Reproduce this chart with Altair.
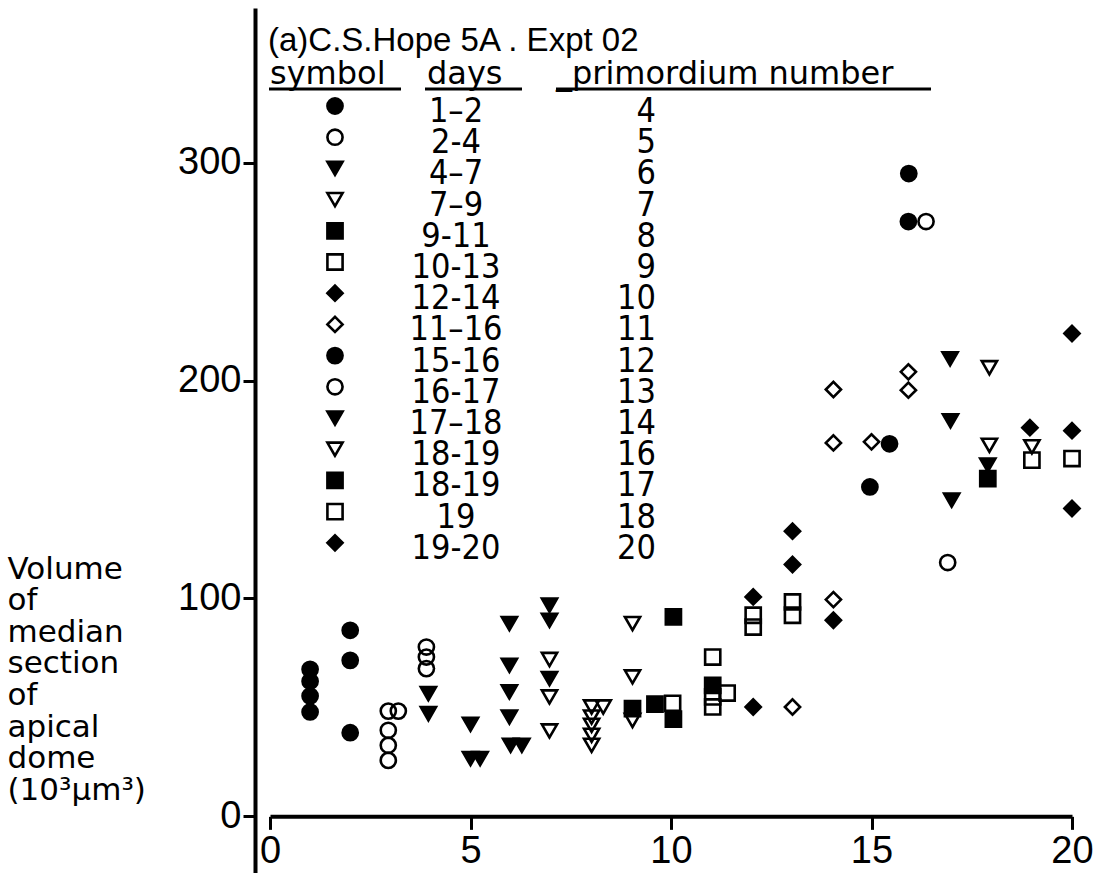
import altair as alt
import pandas as pd

# ---------------- data ----------------
filled_circle_day = [1, 1, 1, 1, 2, 2, 2, 14.96, 15.45, 15.92, 15.93]
filled_circle_vol = [67.5, 62.0, 55.2, 47.9, 85.4, 71.6, 38.4, 151.2, 171.0, 273.0, 295.0]

open_circle_day = [2.95, 3.2, 2.95, 2.95, 2.95, 3.9, 3.9, 3.9, 16.36, 16.9]
open_circle_vol = [48.3, 48.3, 39.5, 32.6, 25.7, 77.7, 73.1, 67.8, 273.0, 116.5]

filled_tri_day = [3.95, 3.95, 5.0, 5.0, 5.24, 5.97, 5.97, 5.97, 5.97, 6.0, 6.28,
                  6.97, 6.97, 6.97, 16.96, 16.97, 17.0, 17.9]
filled_tri_vol = [56.3, 47.1, 42.2, 26.5, 26.5, 88.5, 69.3, 57.1, 45.6, 32.6, 32.6,
                  96.9, 90.0, 63.2, 210.0, 181.5, 145.1, 161.2]

open_tri_day = [6.97, 6.97, 6.97, 8.02, 8.31, 8.02, 8.02, 8.02, 8.02,
                9.04, 9.04, 9.04, 17.94, 17.94, 19.0]
open_tri_vol = [72.0, 54.8, 39.2, 50.2, 50.2, 45.6, 41.8, 37.2, 32.6,
                88.5, 64.0, 44.0, 205.9, 170.3, 169.6]

filled_sq_day = [9.04, 9.6, 10.06, 10.06, 11.04, 17.9]
filled_sq_vol = [49.4, 51.5, 91.5, 44.6, 60.1, 155.0]

open_sq_day = [10.04, 11.04, 11.4, 11.04, 11.04, 12.05, 12.05, 13.03, 13.03, 19.0, 20.0]
open_sq_vol = [51.9, 73.1, 56.6, 54.8, 50.2, 92.3, 86.9, 98.4, 92.3, 163.5, 164.2]

filled_dia_day = [12.05, 12.05, 13.03, 13.03, 14.05, 18.95, 20.0, 20.0, 20.0]
filled_dia_vol = [100.7, 50.2, 130.9, 115.6, 90.0, 178.4, 221.6, 177.0, 141.3]

open_dia_day = [13.03, 14.05, 14.05, 14.05, 15.0, 15.92, 15.92]
open_dia_vol = [50.2, 99.5, 195.9, 171.4, 171.9, 204.0, 195.6]

# legend table
legend_title = "(a)C.S.Hope 5A . Expt 02"
legend_headers = ["symbol", "days", "_primordium number"]
legend_symbols = ["fc", "oc", "ft", "ot", "fs", "os", "fd", "od",
                  "fc", "oc", "ft", "ot", "fs", "os", "fd"]
legend_days = ["1\u20132", "2-4", "4\u20137", "7\u20139", "9-11", "10-13", "12-14", "11\u201316",
               "15-16", "16-17", "17\u201318", "18-19", "18-19", "19", "19-20"]
legend_primordium = ["4", "5", "6", "7", "8", "9", "10", "11",
                     "12", "13", "14", "16", "17", "18", "20"]

x_ticks = [0, 5, 10, 15, 20]
y_ticks = [0, 100, 200, 300]
y_title = ["Volume", "of", "median", "section", "of", "apical", "dome", "(10\u00b3\u00b5m\u00b3)"]

# ---------------- layout ----------------
W, H = 802, 865
PAD_L, PAD_T = 270, 8
X_DOM = [0, 20]
Y_DOM = [-26, 371]


def px_to_x(px):
    return X_DOM[0] + (px - PAD_L) / W * (X_DOM[1] - X_DOM[0])


def py_to_y(py):
    return Y_DOM[1] - (py - PAD_T) / H * (Y_DOM[1] - Y_DOM[0])


y0_pix = (Y_DOM[1] - 0) / (Y_DOM[1] - Y_DOM[0]) * H
x_axis_offset = -(H - y0_pix)

sym_domain = ["fc", "oc", "ft", "ot", "fs", "os", "fd", "od"]
shape_range = ["circle", "circle", "triangle-down", "triangle-down",
               "square", "square", "diamond", "diamond"]
fill_range = ["black", "transparent"] * 4
size_range = [230, 230, 185, 185, 190, 190, 400, 400]

xs = alt.Scale(domain=X_DOM, nice=False, zero=False)
ys = alt.Scale(domain=Y_DOM, nice=False, zero=False)
shape_s = alt.Scale(domain=sym_domain, range=shape_range)
fill_s = alt.Scale(domain=sym_domain, range=fill_range)
size_s = alt.Scale(domain=sym_domain, range=size_range)

x_axis = alt.Axis(
    values=x_ticks, title=None, grid=False, orient="bottom", offset=x_axis_offset,
    domainColor="black", domainWidth=4, tickColor="black", tickWidth=3, tickSize=13,
    labelFont="Liberation Sans", labelFontSize=38, labelColor="black", labelPadding=3,
    labelFlush=False, labelOverlap=False)
y_axis = alt.Axis(
    values=y_ticks, grid=False, orient="left", offset=15,
    domainColor="black", domainWidth=4, tickColor="black", tickWidth=3, tickSize=12,
    labelFont="Liberation Sans", labelFontSize=38, labelColor="black", labelPadding=2,
    labelFlush=False, labelOverlap=False,
    title=y_title, titleAngle=0, titleAlign="left", titleBaseline="top",
    titleX=7 - (PAD_L - 15), titleY=554 - PAD_T, titleFont="DejaVu Sans",
    titleFontSize=31, titleFontWeight="normal", titleColor="black", titleLineHeight=31.6)

rows = []
for sym, dx, dy in [("fc", filled_circle_day, filled_circle_vol),
                    ("oc", open_circle_day, open_circle_vol),
                    ("ft", filled_tri_day, filled_tri_vol),
                    ("ot", open_tri_day, open_tri_vol),
                    ("fs", filled_sq_day, filled_sq_vol),
                    ("os", open_sq_day, open_sq_vol),
                    ("fd", filled_dia_day, filled_dia_vol),
                    ("od", open_dia_day, open_dia_vol)]:
    for a, b in zip(dx, dy):
        rows.append({"x": a, "y": b, "sym": sym})
points_df = pd.DataFrame(rows)

ROW0_TEXT, ROW0_SYM, ROW_STEP = 112, 106, 31.2
n = len(legend_symbols)
legend_sym_df = pd.DataFrame({
    "sym": legend_symbols,
    "x": [px_to_x(335)] * n,
    "y": [py_to_y(ROW0_SYM + ROW_STEP * i) for i in range(n)],
})
legend_days_df = pd.DataFrame({
    "label": legend_days,
    "x": [px_to_x(456)] * n,
    "y": [py_to_y(ROW0_TEXT + ROW_STEP * i) for i in range(n)],
})
legend_prim_df = pd.DataFrame({
    "label": legend_primordium,
    "x": [px_to_x(656)] * n,
    "y": [py_to_y(ROW0_TEXT + ROW_STEP * i) for i in range(n)],
})
header_df = pd.DataFrame({
    "label": legend_headers,
    "x": [px_to_x(270), px_to_x(427), px_to_x(556)],
    "y": [py_to_y(74)] * 3,
})
underline_df = pd.DataFrame({
    "x": [px_to_x(269), px_to_x(425), px_to_x(556)],
    "x2": [px_to_x(401), px_to_x(522), px_to_x(931)],
    "y": [py_to_y(89)] * 3,
})
title_df = pd.DataFrame({"label": [legend_title], "x": [px_to_x(268)], "y": [py_to_y(41)]})


def enc_xy():
    return dict(x=alt.X("x:Q", scale=xs, axis=x_axis),
                y=alt.Y("y:Q", scale=ys, axis=y_axis))


points = alt.Chart(points_df).mark_point(filled=True, stroke="black", strokeWidth=2.6, opacity=1).encode(
    shape=alt.Shape("sym:N", scale=shape_s, legend=None),
    fill=alt.Fill("sym:N", scale=fill_s, legend=None),
    size=alt.Size("sym:N", scale=size_s, legend=None),
    **enc_xy(),
)

leg_syms = alt.Chart(legend_sym_df).mark_point(filled=True, stroke="black", strokeWidth=2.6, opacity=1).encode(
    shape=alt.Shape("sym:N", scale=shape_s, legend=None),
    fill=alt.Fill("sym:N", scale=fill_s, legend=None),
    size=alt.Size("sym:N", scale=size_s, legend=None),
    **enc_xy(),
)

num_font = "Liberation Sans Narrow, DejaVu Sans Condensed, Liberation Sans"
leg_days = alt.Chart(legend_days_df).mark_text(align="center", baseline="middle", font=num_font,
                                               fontSize=34, color="black").encode(
    text="label:N", **enc_xy())
leg_prim = alt.Chart(legend_prim_df).mark_text(align="right", baseline="middle", font=num_font,
                                               fontSize=34, color="black").encode(
    text="label:N", **enc_xy())
headers = alt.Chart(header_df).mark_text(align="left", baseline="middle", font="DejaVu Sans",
                                         fontSize=32, color="black").encode(
    text="label:N", **enc_xy())
underlines = alt.Chart(underline_df).mark_rule(color="black", strokeWidth=3).encode(
    x2="x2:Q", **enc_xy())
title = alt.Chart(title_df).mark_text(align="left", baseline="middle", font="Liberation Sans",
                                      fontSize=33, color="black").encode(
    text="label:N", **enc_xy())

chart = alt.layer(points, leg_syms, leg_days, leg_prim, headers, underlines, title).properties(
    width=W, height=H,
    autosize=alt.AutoSizeParams(type="none"),
    padding={"left": PAD_L, "top": PAD_T, "right": 1105 - PAD_L - W, "bottom": 0},
    background="white",
).configure_view(stroke=None)

chart.save("out.html", embed_options={"renderer": "svg", "actions": False})
